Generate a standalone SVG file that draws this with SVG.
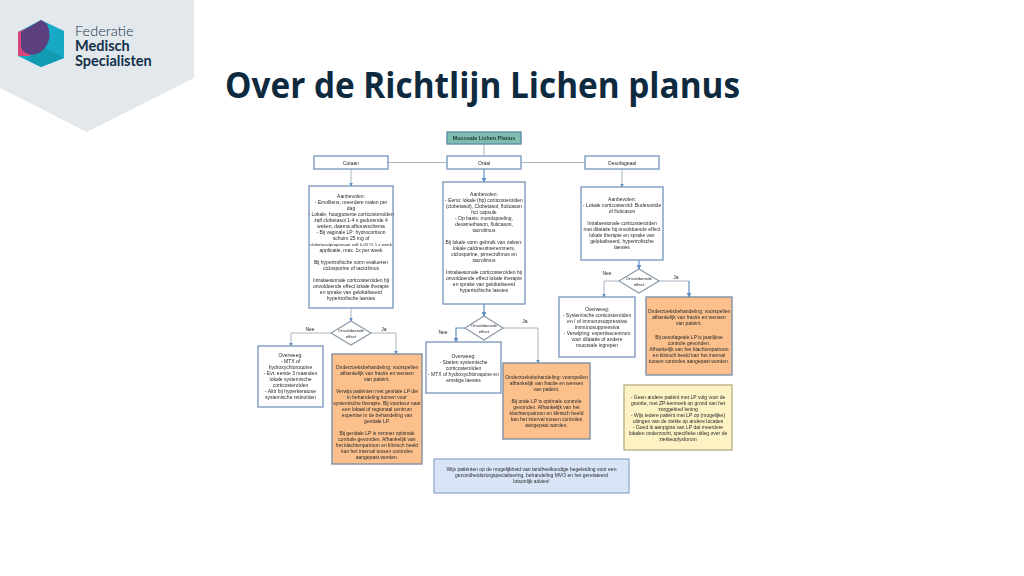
<svg xmlns="http://www.w3.org/2000/svg" width="1024" height="576" viewBox="0 0 1024 576">
<style>
.b{fill:#fff;stroke:#7f9cc0;stroke-width:1.4}
.o{fill:#fbc08c;stroke:#7f8fa6;stroke-width:1.4}
.y{fill:#fdf2c4;stroke:#b0a878;stroke-width:1.2}
.l{fill:#d9e4f7;stroke:#8ea6c8;stroke-width:1.2}
.t{fill:#7fbdb0;stroke:#5f8fa8;stroke-width:1.4}
.d{fill:#fff;stroke:#8c9aa8;stroke-width:1.2}
text.s{font:5px "Liberation Sans",Arial,sans-serif;fill:#2a2a2a;text-anchor:middle}
text.m{font:4.4px "Liberation Sans",Arial,sans-serif;fill:#2a2a2a;text-anchor:middle}
text.h{font:bold 5.4px "Liberation Sans",Arial,sans-serif;fill:#1d3a3a;text-anchor:middle}
.c{fill:none;stroke:#a9b4c0;stroke-width:1;marker-end:url(#a)}
.n{fill:none;stroke:#a9b4c0;stroke-width:1}
.e{fill:none;stroke:#5f8fc4;stroke-width:1.2;marker-end:url(#a)}
.logo{font-family:Lato,"Open Sans",sans-serif;fill:#12304a}
</style>
<defs>
<marker id="a" markerWidth="4" markerHeight="4" refX="3.4" refY="2" orient="auto"><path d="M0 0L4 2L0 4Z" fill="#5f8fc4"/></marker>
<filter id="f" x="-2%" y="-2%" width="104%" height="104%"><feGaussianBlur stdDeviation="0.5"/></filter>
</defs>
<rect width="1024" height="576" fill="#fff"/>
<g id="logo">
<polygon points="0,0 194,0 194,78 87,132 0,88" fill="#e3e8ec"/>
<polygon points="41,20 64,31 64,58 41,67 18,56 18,32" fill="#17a9c6"/>
<polygon points="41,45 64,58 41,67 27,60" fill="#149bb4"/>
<polygon points="18,32 30,27 30,56 18,56" fill="#d8467c"/>
<path d="M41 20L47 24Q53 37 45 48Q36 58 26 53Q21 50 21 46L21 32Z" fill="#5b3f7f"/>
<text class="logo" x="75" y="36" font-size="14.500" font-weight="300">Federatie</text>
<text class="logo" x="75" y="51" font-size="14.500" font-weight="700">Medisch</text>
<text class="logo" x="75" y="66" font-size="14.500" font-weight="700">Specialisten</text>
</g>
<text id="title" x="225" y="98" font-family="'Open Sans',sans-serif" font-size="35" font-weight="700" fill="#0e2a3f" textLength="515" lengthAdjust="spacingAndGlyphs">Over de Richtlijn Lichen planus</text>
<g filter="url(#f)">
<g id="connectors">
<path class="n" d="M484 144V156M388 162.500H447M521 162.500H585"/>
<path class="c" d="M351 169V186"/>
<path class="e" d="M484 169V182"/>
<path class="c" d="M622 169V187"/>
<path class="c" d="M351 308V321"/>
<path class="e" d="M484 304V316"/>
<path class="e" d="M639 260V269"/>
<path class="c" d="M331 333H291V346"/>
<path class="c" d="M371 333H396V354"/>
<path class="e" d="M465 328H456V342"/>
<path class="c" d="M503 328H538V363"/>
<path class="c" d="M619 281H604V297"/>
<path class="n" d="M659 281H689"/>
<path class="e" d="M689 281V297"/>
</g>
<g id="root"><rect class="t" x="447" y="132" width="74" height="12"/><text class="h" x="484" y="140">Mucosale Lichen Planus</text></g>
<g id="cutaan"><rect class="b" x="314" y="156" width="74" height="13"/><text class="s" x="351" y="164.500">Cutaan</text></g>
<g id="oraal"><rect class="b" x="447" y="156" width="74" height="13"/><text class="s" x="484" y="164.500">Oraal</text></g>
<g id="oesofageaal"><rect class="b" x="585" y="156" width="74" height="13"/><text class="s" x="622" y="164.500">Oesofageaal</text></g>
<g id="cutaan-body"><rect class="b" x="309" y="186" width="84" height="122"/>
<text class="s" x="351" y="198">Aanbevolen:</text>
<text class="s" x="351" y="204">- Emolliens, meerdere malen per</text>
<text class="s" x="351" y="210">dag</text>
<text class="s" x="351" y="216">- Lokale, hoogpotente corticosteroïden</text>
<text class="s" x="351" y="222">zalf clobetasol 1-4 x gedurende 4</text>
<text class="s" x="351" y="228">weken, daarna afbouwschema</text>
<text class="s" x="351" y="234">- Bij vaginale LP: hydrocortison</text>
<text class="s" x="351" y="240">schuim 25 mg of</text>
<text class="m" x="351" y="246">clobetasolpropionaat zalf 0,05 % 1 x week</text>
<text class="s" x="351" y="252">applicatie, max. 1x per week</text>
<text class="s" x="351" y="264">Bij hypertrofische vorm evalueren</text>
<text class="s" x="351" y="270">ciclosporine of tacrolimus</text>
<text class="s" x="351" y="282">Intralaesionale corticosteroïden bij</text>
<text class="s" x="351" y="288">onvoldoende effect lokale therapie</text>
<text class="s" x="351" y="294">en sprake van gelokaliseerd</text>
<text class="s" x="351" y="300">hypertrofische laesies</text>
</g>
<g id="oraal-body"><rect class="b" x="443" y="182" width="82" height="122"/>
<text class="s" x="484" y="196">Aanbevolen:</text>
<text class="s" x="484" y="202">- Eerst: lokale (hp) corticosteroïden</text>
<text class="s" x="484" y="208">(clobetasol), Clobetasol, fluticason</text>
<text class="s" x="484" y="214">hct capsule</text>
<text class="s" x="484" y="220">- Op basis: mondspoeling,</text>
<text class="s" x="484" y="226">dexamethason, fluticason,</text>
<text class="s" x="484" y="232">tacrolimus</text>
<text class="s" x="484" y="244">Bij lokale vorm gebruik van zalven:</text>
<text class="s" x="484" y="250">lokale calcineurineremmers,</text>
<text class="s" x="484" y="256">ciclosporine, pimecrolimus en</text>
<text class="s" x="484" y="262">tacrolimus</text>
<text class="s" x="484" y="274">Intralaesionale corticosteroïden bij</text>
<text class="s" x="484" y="280">onvoldoende effect lokale therapie</text>
<text class="s" x="484" y="286">en sprake van gelokaliseerd</text>
<text class="s" x="484" y="292">hypertrofische laesies</text>
</g>
<g id="oes-body"><rect class="b" x="581" y="187" width="82" height="73"/>
<text class="s" x="622" y="201">Aanbevolen:</text>
<text class="s" x="622" y="207">- Lokale corticosteroïd: Budesonide</text>
<text class="s" x="622" y="213">of fluticason</text>
<text class="s" x="622" y="225">Intralaesionale corticosteroïden</text>
<text class="s" x="622" y="231">met dilatatie bij onvoldoende effect</text>
<text class="s" x="622" y="237">lokale therapie en sprake van</text>
<text class="s" x="622" y="243">gelokaliseerd, hypertrofische</text>
<text class="s" x="622" y="249">laesies</text>
</g>
<g id="dec-cutaan"><polygon class="d" points="331,333 351,321 371,333 351,345"/><text class="m" x="351" y="332">Onvoldoende</text><text class="m" x="351" y="338">effect</text></g>
<g id="dec-oraal"><polygon class="d" points="465,328 484,316 503,328 484,340"/><text class="m" x="484" y="327">Onvoldoende</text><text class="m" x="484" y="333">effect</text></g>
<g id="dec-oes"><polygon class="d" points="619,281 639,269 659,281 639,293"/><text class="m" x="639" y="280">Onvoldoende</text><text class="m" x="639" y="286">effect</text></g>
<text class="s" x="310" y="331">Nee</text><text class="s" x="384" y="331">Ja</text>
<text class="s" x="443" y="334">Nee</text><text class="s" x="525" y="323">Ja</text>
<text class="s" x="607" y="275">Nee</text><text class="s" x="676" y="279">Ja</text>
<g id="cut-over"><rect class="b" x="258" y="346" width="65" height="61"/>
<text class="s" x="290.500" y="357">Overweeg:</text>
<text class="s" x="290.500" y="363">- MTX of</text>
<text class="s" x="290.500" y="369">hydroxychloroquine</text>
<text class="s" x="290.500" y="375">- Evt. eerste 3 maanden</text>
<text class="s" x="290.500" y="381">lokale systemische</text>
<text class="s" x="290.500" y="387">corticosteroïden</text>
<text class="s" x="290.500" y="393">- Alitr bij hyperkeratose</text>
<text class="s" x="290.500" y="399">systemische retinoïden</text>
</g>
<g id="cut-orange"><rect class="o" x="332" y="354" width="90" height="110"/>
<text class="s" x="377" y="369">Onderzoeksbehandeling: voorspellen</text>
<text class="s" x="377" y="375">afhankelijk van fractie en wensen</text>
<text class="s" x="377" y="381">van patiënt.</text>
<text class="s" x="377" y="393">Verwijs patiënten met genitale LP die</text>
<text class="s" x="377" y="399">in behandeling komen voor</text>
<text class="s" x="377" y="405">systemische therapie. Bij voorkeur naar</text>
<text class="s" x="377" y="411">een lokaal of regionaal centrum</text>
<text class="s" x="377" y="417">expertise in de behandeling van</text>
<text class="s" x="377" y="423">genitale LP.</text>
<text class="s" x="377" y="435">Bij genitale LP is nimmer optimale</text>
<text class="s" x="377" y="441">controle gevonden. Afhankelijk van</text>
<text class="s" x="377" y="447">het klachtenpatroon en klinisch beeld</text>
<text class="s" x="377" y="453">kan het interval tussen controles</text>
<text class="s" x="377" y="459">aangepast worden.</text>
</g>
<g id="ora-over"><rect class="b" x="426" y="342" width="75" height="51"/>
<text class="s" x="463.500" y="358">Overweeg:</text>
<text class="s" x="463.500" y="364">- Starten systemische</text>
<text class="s" x="463.500" y="370">corticosteroïden</text>
<text class="s" x="463.500" y="376">- MTX of hydroxychloroquine en</text>
<text class="s" x="463.500" y="382">ernstige laesies</text>
</g>
<g id="ora-orange"><rect class="o" x="503" y="363" width="87" height="76"/>
<text class="s" x="546.500" y="379">Onderzoeksbehandeling: voorspellen</text>
<text class="s" x="546.500" y="385">afhankelijk van fractie en wensen</text>
<text class="s" x="546.500" y="391">van patiënt.</text>
<text class="s" x="546.500" y="403">Bij orale LP is optimale controle</text>
<text class="s" x="546.500" y="409">gevonden. Afhankelijk van het</text>
<text class="s" x="546.500" y="415">klachtenpatroon en klinisch beeld</text>
<text class="s" x="546.500" y="421">kan het interval tussen controles</text>
<text class="s" x="546.500" y="427">aangepast worden.</text>
</g>
<g id="oes-over"><rect class="b" x="559" y="297" width="76" height="60"/>
<text class="s" x="597" y="311">Overweeg:</text>
<text class="s" x="597" y="317">- Systemische corticosteroïden</text>
<text class="s" x="597" y="323">en / of immunosuppressiva</text>
<text class="s" x="597" y="329">immunosuppressiva</text>
<text class="s" x="597" y="335">- Verwijzing: expertisecentrum</text>
<text class="s" x="597" y="341">voor dilatatie of andere</text>
<text class="s" x="597" y="347">mucosale ingrepen</text>
</g>
<g id="oes-orange"><rect class="o" x="646" y="297" width="86" height="78"/>
<text class="s" x="689" y="313">Onderzoeksbehandeling: voorspellen</text>
<text class="s" x="689" y="319">afhankelijk van fractie en wensen</text>
<text class="s" x="689" y="325">van patiënt.</text>
<text class="s" x="689" y="339">Bij oesofageale LP is jaarlijkse</text>
<text class="s" x="689" y="345">controle gevonden.</text>
<text class="s" x="689" y="351">Afhankelijk van het klachtenpatroon</text>
<text class="s" x="689" y="357">en klinisch beeld kan het interval</text>
<text class="s" x="689" y="363">tussen controles aangepast worden.</text>
</g>
<g id="note-yellow"><rect class="y" x="624" y="385" width="108" height="65"/>
<text class="s" x="678" y="399">- Geen andere patiënt met LP volg voor de</text>
<text class="s" x="678" y="405">grootte, met ZP-kenmerk op grond van het</text>
<text class="s" x="678" y="411">zorggebied lening</text>
<text class="s" x="678" y="417">- Wijs iedere patiënt met LP op (mogelijke)</text>
<text class="s" x="678" y="423">uitingen van de ziekte op andere locaties</text>
<text class="s" x="678" y="429">- Goed ik aanpgina van LP dat meerdere</text>
<text class="s" x="678" y="435">lokalen onderzocht, specifieke uitleg over de</text>
<text class="s" x="678" y="441">ziekteoplysforum</text>
</g>
<g id="note-blue"><rect class="l" x="434" y="459" width="195" height="34"/>
<text class="s" x="531.500" y="471">Wijs patiënten op de mogelijkheid van tandheelkundige begeleiding voor een</text>
<text class="s" x="531.500" y="477">gezondheidszorgspecialisering, behandeling MVO en het gerelateerd</text>
<text class="s" x="531.500" y="483">lotsonlijk advies!</text>
</g>
</g>
</svg>
